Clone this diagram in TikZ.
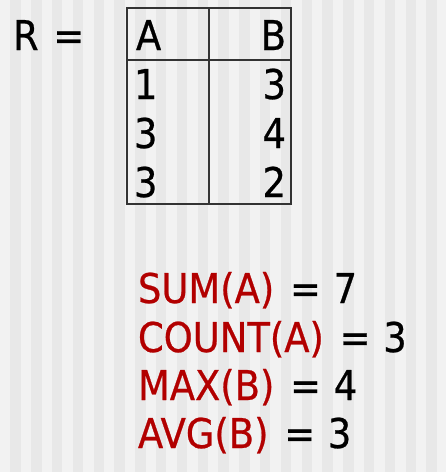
\documentclass[tikz,border=0pt]{standalone}
\usepackage{fontspec}
\setmainfont{DejaVu Sans Condensed}[FakeBold=0.6]
\usetikzlibrary{positioning}
\definecolor{stripelight}{RGB}{242,242,242}
\definecolor{stripedark}{RGB}{232,232,232}
\definecolor{aggred}{RGB}{178,0,0}
\newcommand{\aggfn}[1]{\textcolor{aggred}{#1}\hspace{4pt} =\hspace{1pt} }

\begin{document}
\begin{tikzpicture}[x=1pt, y=-1pt, thick, outer sep=0,
    bigtext/.style={inner sep=0, font=\fontsize{41}{45}\selectfont},
    leftcell/.style={bigtext, anchor=base west},
    rightcell/.style={bigtext, anchor=base east},
    aggline/.style={bigtext, anchor=base west}]
        \useasboundingbox (0,0) rectangle (446,472);
        % striped background
        \fill[stripelight] (0,0) rectangle (446,472);
        \foreach \k in {0,...,20}
            \fill[stripedark] ({10.4+20.8*\k},0) rectangle ({20.8+20.8*\k},472);
        % relation name
        \node [leftcell] (rname) at (13,50) {R\hspace{3pt} =};
        % table grid
        \draw[line width=1.3pt, black!80] (127,8) rectangle (291,204);
        \draw[line width=1.3pt, black!80] (127,60) -- (291,60);
        \draw[line width=1.3pt, black!80] (209,8) -- (209,204);
        % column A
        \node [leftcell] (hA) at (136,50) {A};
        \node [leftcell] (a1) at (134,99) {1};
        \node [leftcell] (a2) at (134,148) {3};
        \node [leftcell] (a3) at (134,197) {3};
        % column B
        \node [rightcell] (hB) at (286,50) {B};
        \node [rightcell] (b1) at (286,99) {3};
        \node [rightcell] (b2) at (286,148) {4};
        \node [rightcell] (b3) at (286,197) {2};
        % aggregates
        \node [aggline] (sum) at (138,303) {\aggfn{SUM(A)}7};
        \node [aggline] (count) at (138,352) {\aggfn{COUNT(A)}3};
        \node [aggline] (max) at (138,400) {\aggfn{MAX(B)}4};
        \node [aggline] (avg) at (138,448) {\aggfn{AVG(B)}3};
    \end{tikzpicture}
\end{document}
